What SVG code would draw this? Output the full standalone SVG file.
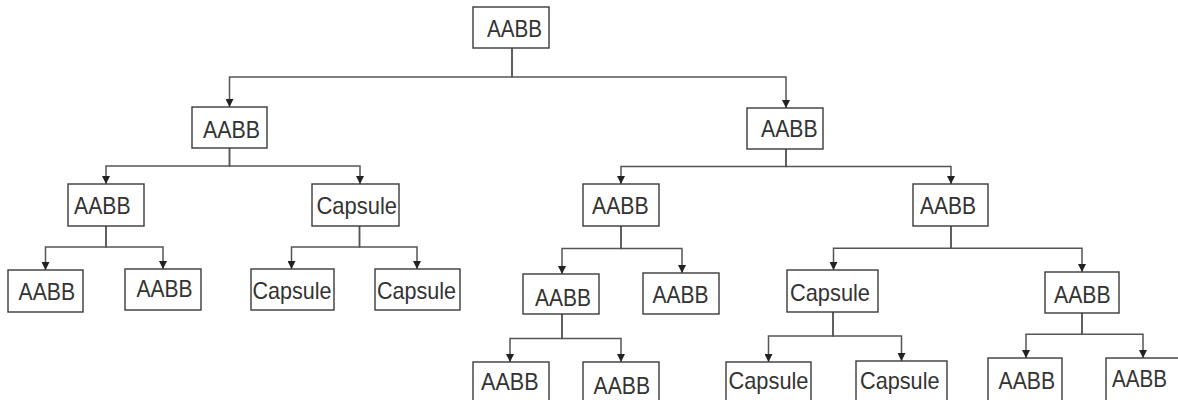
<svg xmlns="http://www.w3.org/2000/svg" width="1178" height="400" viewBox="0 0 1178 400">
<style>
.box{fill:#fff;stroke:#3a3a3a;stroke-width:1.4}
.t{font-family:"Liberation Sans",Arial,sans-serif;font-size:24px;fill:#333}
.c{fill:none;stroke:#555;stroke-width:1.5}
</style>
<defs>
<marker id="ah" markerUnits="userSpaceOnUse" markerWidth="8" markerHeight="8" refX="7" refY="3.5" orient="auto" viewBox="0 0 7 7">
<path d="M0,0 L7,3.5 L0,7 Z" fill="#222"/>
</marker>
</defs>
<rect width="1178" height="400" fill="#fff"/>
<g id="connectors">
<path class="c" d="M512,48 V77 H229.5 V107" marker-end="url(#ah)"/>
<path class="c" d="M512,48 V77 H786 V108" marker-end="url(#ah)"/>
<path class="c" d="M229.5,148 V166 H106 V184" marker-end="url(#ah)"/>
<path class="c" d="M229.5,148 V166 H360 V184" marker-end="url(#ah)"/>
<path class="c" d="M106,226 V247 H45.5 V270" marker-end="url(#ah)"/>
<path class="c" d="M106,226 V247 H163 V269" marker-end="url(#ah)"/>
<path class="c" d="M359.5,226 V247 H291.5 V269" marker-end="url(#ah)"/>
<path class="c" d="M359.5,226 V247 H417 V269" marker-end="url(#ah)"/>
<path class="c" d="M786,149 V166.5 H621 V184" marker-end="url(#ah)"/>
<path class="c" d="M786,149 V166.5 H951 V184" marker-end="url(#ah)"/>
<path class="c" d="M621,226 V248.5 H562 V274" marker-end="url(#ah)"/>
<path class="c" d="M621,226 V248.5 H682 V273" marker-end="url(#ah)"/>
<path class="c" d="M562,314 V338.5 H510 V362" marker-end="url(#ah)" stroke="#777"/>
<path class="c" d="M562,314 V338.5 H621 V362" marker-end="url(#ah)"/>
<path class="c" d="M951,226 V248.3 H833.5 V270" marker-end="url(#ah)"/>
<path class="c" d="M951,226 V248.3 H1082 V272" marker-end="url(#ah)"/>
<path class="c" d="M833,312 V336 H768.5 V362" marker-end="url(#ah)"/>
<path class="c" d="M833,312 V336 H901.5 V361" marker-end="url(#ah)"/>
<path class="c" d="M1082,313 V334.3 H1026 V358" marker-end="url(#ah)"/>
<path class="c" d="M1082,313 V334.3 H1143 V358" marker-end="url(#ah)"/>
</g>
<g id="n0"><rect class="box" x="473" y="7" width="76" height="41"/><text class="t" x="487" y="36.5" textLength="55" lengthAdjust="spacingAndGlyphs">AABB</text></g>
<g id="n1"><rect class="box" x="192" y="107" width="75" height="41"/><text class="t" x="203" y="138" textLength="57" lengthAdjust="spacingAndGlyphs">AABB</text></g>
<g id="n2"><rect class="box" x="747" y="108" width="76" height="41"/><text class="t" x="761" y="137" textLength="56.5" lengthAdjust="spacingAndGlyphs">AABB</text></g>
<g id="n3"><rect class="box" x="68" y="184" width="76" height="42"/><text class="t" x="74" y="214" textLength="56.5" lengthAdjust="spacingAndGlyphs">AABB</text></g>
<g id="n4"><rect class="box" x="312" y="184" width="87" height="42"/><text class="t" x="316.5" y="214" textLength="80.5" lengthAdjust="spacingAndGlyphs">Capsule</text></g>
<g id="n5"><rect class="box" x="8" y="270" width="75" height="42"/><text class="t" x="18.5" y="299.5" textLength="56.5" lengthAdjust="spacingAndGlyphs">AABB</text></g>
<g id="n6"><rect class="box" x="125" y="269" width="76" height="41"/><text class="t" x="136.5" y="297" textLength="56" lengthAdjust="spacingAndGlyphs">AABB</text></g>
<g id="n7"><rect class="box" x="251" y="269" width="83" height="41"/><text class="t" x="252.5" y="299" textLength="79" lengthAdjust="spacingAndGlyphs">Capsule</text></g>
<g id="n8"><rect class="box" x="375" y="269" width="85" height="41"/><text class="t" x="377" y="298.5" textLength="79" lengthAdjust="spacingAndGlyphs">Capsule</text></g>
<g id="n9"><rect class="box" x="583" y="184" width="76" height="42"/><text class="t" x="592" y="213.5" textLength="56.5" lengthAdjust="spacingAndGlyphs">AABB</text></g>
<g id="n10"><rect class="box" x="913" y="184" width="75" height="42"/><text class="t" x="920" y="214" textLength="56" lengthAdjust="spacingAndGlyphs">AABB</text></g>
<g id="n11"><rect class="box" x="523" y="274" width="76" height="40"/><text class="t" x="535" y="305.5" textLength="56" lengthAdjust="spacingAndGlyphs">AABB</text></g>
<g id="n12"><rect class="box" x="643" y="273" width="76" height="41"/><text class="t" x="652.5" y="303" textLength="56" lengthAdjust="spacingAndGlyphs">AABB</text></g>
<g id="n13"><rect class="box" x="473" y="362" width="76" height="42"/><text class="t" x="481" y="390" textLength="57.5" lengthAdjust="spacingAndGlyphs">AABB</text></g>
<g id="n14"><rect class="box" x="583" y="362" width="76" height="42"/><text class="t" x="593.5" y="394" textLength="56.5" lengthAdjust="spacingAndGlyphs">AABB</text></g>
<g id="n15"><rect class="box" x="787" y="270" width="91" height="42"/><text class="t" x="790" y="301" textLength="80" lengthAdjust="spacingAndGlyphs">Capsule</text></g>
<g id="n16"><rect class="box" x="1045" y="272" width="74" height="41"/><text class="t" x="1054" y="302.5" textLength="56.5" lengthAdjust="spacingAndGlyphs">AABB</text></g>
<g id="n17"><rect class="box" x="726" y="362" width="85" height="42"/><text class="t" x="728.5" y="388.5" textLength="80" lengthAdjust="spacingAndGlyphs">Capsule</text></g>
<g id="n18"><rect class="box" x="856" y="361" width="91" height="43"/><text class="t" x="860" y="389" textLength="79.5" lengthAdjust="spacingAndGlyphs">Capsule</text></g>
<g id="n19"><rect class="box" x="988" y="358" width="74" height="45"/><text class="t" x="998.5" y="388.5" textLength="56.5" lengthAdjust="spacingAndGlyphs">AABB</text></g>
<g id="n20"><rect class="box" x="1106" y="358" width="80" height="45"/><text class="t" x="1112" y="387" textLength="55" lengthAdjust="spacingAndGlyphs">AABB</text></g>
</svg>
